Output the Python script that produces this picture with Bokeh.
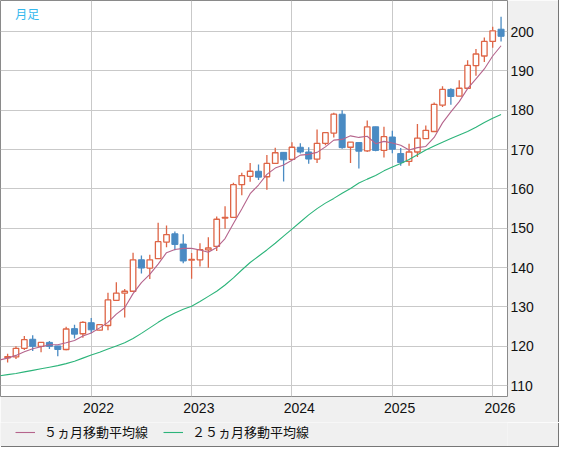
from bokeh.plotting import figure
from bokeh.models import ColumnDataSource, FixedTicker, Legend, LegendItem, Label, Range1d
from bokeh.layouts import column
from bokeh.embed import file_html
from bokeh.resources import INLINE

# Monthly candles, Mar 2021 .. Feb 2026 (index 0 .. 59)
opens = [117.1, 117.3, 119.5, 121.8, 120.0, 121.0, 120.1, 119.2, 124.5, 123.2,
         126.0, 124.1, 125.3, 131.7, 133.5, 134.0, 142.0, 139.9, 142.3, 146.5,
         148.6, 146.0, 141.9, 142.0, 144.5, 145.4, 152.6, 152.8, 161.1, 163.2,
         164.5, 163.1, 166.5, 169.3, 167.5, 170.6, 169.4, 167.6, 171.6, 174.2,
         179.0, 170.6, 171.8, 169.7, 175.8, 169.8, 173.2, 169.0, 167.0, 169.4,
         172.8, 174.6, 181.3, 185.3, 183.6, 185.6, 191.35, 193.8, 197.5, 200.6]
highs = [118.1, 120.0, 122.6, 122.8, 121.0, 121.35, 120.1, 125.0, 125.5, 126.4,
         127.2, 125.5, 133.6, 136.3, 134.6, 143.8, 143.1, 143.3, 151.4, 150.7,
         149.2, 148.5, 143.7, 146.2, 147.7, 153.0, 155.6, 161.6, 164.1, 166.6,
         166.2, 168.6, 170.5, 169.3, 171.9, 171.6, 170.6, 175.1, 174.3, 179.4,
         180.0, 171.9, 171.8, 177.4, 175.8, 175.8, 174.8, 170.4, 171.5, 176.5,
         176.1, 182.0, 186.1, 185.6, 187.6, 192.7, 195.6, 198.5, 201.2, 203.8]
lows = [115.9, 116.8, 119.1, 118.8, 118.5, 119.3, 117.5, 119.0, 122.0, 122.2,
        123.3, 124.0, 124.1, 131.7, 127.3, 134.0, 138.5, 137.1, 142.3, 145.2,
        144.4, 141.1, 137.2, 140.3, 140.0, 144.2, 149.9, 152.8, 158.4, 161.85,
        162.3, 159.8, 166.5, 161.9, 167.4, 169.0, 166.4, 166.6, 171.1, 173.1,
        170.2, 166.6, 165.2, 169.4, 169.6, 168.0, 169.1, 165.9, 165.9, 168.1,
        172.8, 174.6, 180.8, 181.4, 183.6, 185.6, 188.8, 192.3, 195.9, 197.5]
closes = [117.4, 119.5, 121.7, 120.0, 121.0, 120.0, 119.2, 124.4, 123.1, 126.1,
          124.2, 125.5, 131.8, 133.5, 134.0, 142.0, 139.9, 142.0, 146.6, 148.4,
          145.9, 141.7, 142.1, 144.6, 145.0, 152.3, 152.8, 161.1, 163.4, 164.5,
          163.0, 166.5, 169.2, 167.4, 170.6, 169.4, 167.6, 171.6, 174.3, 179.0,
          170.5, 171.9, 169.6, 175.8, 169.8, 173.3, 170.1, 166.7, 169.4, 172.9,
          174.9, 181.5, 185.3, 183.5, 185.6, 191.4, 194.3, 197.5, 200.2, 198.8]

# Moving averages, Feb 2021 .. Feb 2026 (index -1 .. 59)
ma5 = [116.5, 117.0, 117.7, 118.6, 119.4, 119.9, 120.4, 120.4, 120.9, 121.5,
       122.6, 123.4, 124.7, 126.1, 128.2, 129.8, 133.4, 136.2, 138.3, 140.9,
       143.8, 144.6, 144.9, 144.9, 144.5, 143.9, 145.1, 147.4, 151.2, 154.9,
       158.8, 161.0, 163.7, 165.3, 166.1, 167.3, 168.6, 168.8, 169.3, 170.7,
       172.4, 172.6, 173.5, 173.1, 173.4, 171.5, 172.1, 171.7, 171.1, 169.9,
       170.5, 170.8, 173.1, 176.8, 179.6, 182.2, 185.5, 188.0, 190.5, 193.8,
       196.4]
ma25 = [112.5, 112.8, 113.1, 113.5, 113.9, 114.3, 114.7, 115.1, 115.6, 116.2,
        117.0, 117.8, 118.5, 119.3, 120.1, 120.9, 122.0, 123.3, 124.7, 126.1,
        127.4, 128.5, 129.4, 130.2, 131.4, 132.7, 134.0, 135.6, 137.4, 139.4,
        141.3, 142.9, 144.5, 146.2, 148.0, 149.8, 151.6, 153.4, 155.0, 156.4,
        157.6, 158.9, 160.1, 161.5, 162.5, 163.4, 164.6, 165.6, 166.5, 167.5,
        168.7, 169.9, 170.9, 171.9, 172.8, 173.7, 174.6, 175.7, 176.9, 178.0,
        178.9]

year_labels = ["2022", "2023", "2024", "2025", "2026"]
year_index = [10, 22, 34, 46, 58]          # January candle of each year
y_ticks = [110, 120, 130, 140, 150, 160, 170, 180, 190, 200]
legend_labels = ["５ヵ月移動平均線", "２５ヵ月移動平均線"]

RED = "#de6546"
BLUE = "#4a8bc3"
PINK = "#b5648c"
GREEN = "#2cb47a"
GRID = "#c9c9c9"
BG = "#f0f0f0"
EDGE = "#767676"

n = len(opens)
idx = list(range(n))
ma_x = list(range(-1, n))

up = dict(x=[], top=[], bottom=[])
dn = dict(x=[], top=[], bottom=[])
wu = dict(x=[], hi=[], lo=[])
wd = dict(x=[], hi=[], lo=[])
for i, o, h, l, c in zip(idx, opens, highs, lows, closes):
    if c >= o:
        up["x"].append(i); up["top"].append(max(o, c)); up["bottom"].append(min(o, c))
        wu["x"].append(i); wu["hi"].append(h); wu["lo"].append(l)
    else:
        dn["x"].append(i); dn["top"].append(max(o, c)); dn["bottom"].append(min(o, c))
        wd["x"].append(i); wd["hi"].append(h); wd["lo"].append(l)

p = figure(frame_width=507, frame_height=396,
           x_range=Range1d(-0.85, 59.77), y_range=Range1d(107.25, 207.9),
           output_backend="svg", toolbar_location=None,
           y_axis_location="right",
           min_border_left=0, min_border_top=0,
           min_border_right=51, min_border_bottom=26,
           background_fill_color="white", border_fill_color=BG,
           outline_line_color="#8a8a8a")
p.styles = {"box-shadow": f"1px 0 0 {EDGE}"}

# grids
p.xgrid.ticker = FixedTicker(ticks=year_index)
p.ygrid.ticker = FixedTicker(ticks=y_ticks)
for g in (p.xgrid, p.ygrid):
    g.grid_line_color = GRID
    g.grid_line_width = 1

# axes
p.xaxis.ticker = FixedTicker(ticks=[v + 0.87 for v in year_index])
p.xaxis.major_label_overrides = {v + 0.87: t for v, t in zip(year_index, year_labels)}
p.yaxis.ticker = FixedTicker(ticks=y_ticks)
for ax in (p.xaxis, p.yaxis):
    ax.axis_line_color = None
    ax.major_tick_line_color = None
    ax.minor_tick_line_color = None
    ax.major_tick_out = 0
    ax.major_tick_in = 0
    ax.major_label_text_font = "Liberation Sans"
    ax.major_label_text_font_size = "14px"
    ax.major_label_text_color = "#111111"
p.xaxis.major_label_standoff = 6
p.yaxis.major_label_standoff = 3

# candles
p.segment(x0="x", y0="lo", x1="x", y1="hi", source=ColumnDataSource(wu),
          line_color=RED, line_width=1.3)
p.segment(x0="x", y0="lo", x1="x", y1="hi", source=ColumnDataSource(wd),
          line_color=BLUE, line_width=1.3)
p.vbar(x="x", width=0.66, top="top", bottom="bottom", source=ColumnDataSource(up),
       fill_color="white", line_color=RED, line_width=1.3)
p.vbar(x="x", width=0.72, top="top", bottom="bottom", source=ColumnDataSource(dn),
       fill_color=BLUE, line_color=BLUE, line_width=1)

# moving averages
p.line(ma_x, ma25, line_color=GREEN, line_width=1.1)
p.line(ma_x, ma5, line_color=PINK, line_width=1.1)

p.add_layout(Label(x=0.9, y=206.8, text="月足", text_font="Noto Sans CJK JP",
                   text_font_size="12px", text_color="#35b8ee", text_baseline="top"))

# legend strip (its lines fall outside the strip's ranges; only the swatches show)
q = figure(width=558, height=24, x_range=Range1d(0, 1), y_range=Range1d(0, 1),
           output_backend="svg", toolbar_location=None,
           x_axis_type=None, y_axis_type=None,
           min_border_left=0, min_border_right=0, min_border_top=0, min_border_bottom=0,
           background_fill_color=BG, border_fill_color=BG, outline_line_color=None)
q.styles = {"box-shadow": f"1px 1px 0 {EDGE}"}
q.grid.visible = False
s5 = q.line(ma_x, ma5, line_color=PINK, line_width=1.1)
s25 = q.line(ma_x, ma25, line_color=GREEN, line_width=1.1)
legend = Legend(items=[LegendItem(label=legend_labels[0], renderers=[s5]),
                       LegendItem(label=legend_labels[1], renderers=[s25])],
                orientation="horizontal", location=(15, 5),
                margin=0, padding=0, spacing=15, label_standoff=9,
                glyph_width=20, glyph_height=16, label_height=16,
                label_text_font="Noto Sans CJK JP", label_text_font_size="13px",
                label_text_color="#111111",
                background_fill_alpha=0, border_line_alpha=0)
q.add_layout(legend)

layout = column(p, q, spacing=0)

open("out.html", "w").write(file_html(layout, INLINE))
